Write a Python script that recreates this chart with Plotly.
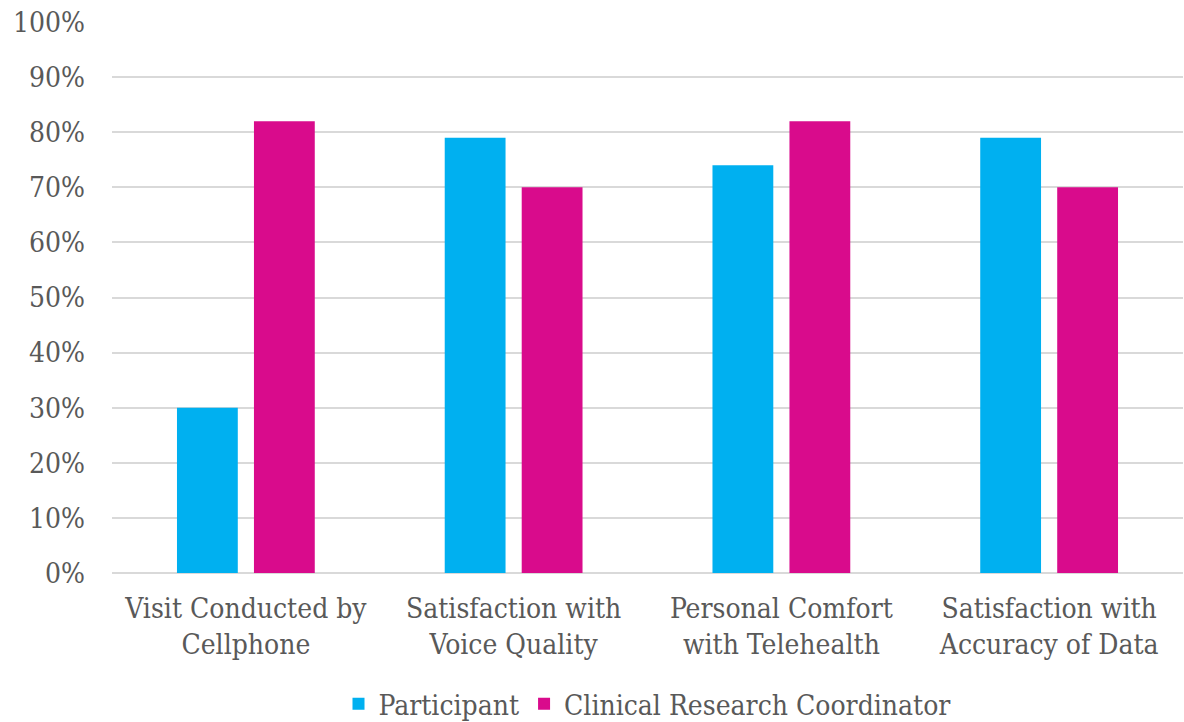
import plotly.graph_objects as go

categories = [
    "Visit Conducted by<br>Cellphone",
    "Satisfaction with<br>Voice Quality",
    "Personal Comfort<br>with Telehealth",
    "Satisfaction with<br>Accuracy of Data",
]
participant = [30, 79, 74, 79]
coordinator = [82, 70, 82, 70]
y_ticks = list(range(0, 101, 10))
y_tick_labels = [f"{v}%" for v in y_ticks]

font_family = "DejaVu Serif Condensed"
text_color = "#595959"
font_size = 28

fig = go.Figure()
fig.add_trace(go.Bar(x=categories, y=participant, name="Participant",
                     marker=dict(color="#00B0F0", line=dict(width=0))))
fig.add_trace(go.Bar(x=categories, y=coordinator, name="Clinical Research Coordinator",
                     marker=dict(color="#D90B8C", line=dict(width=0))))

fig.update_layout(
    width=1184, height=722,
    margin=dict(l=112, r=1, t=22, b=149, autoexpand=False),
    plot_bgcolor="white", paper_bgcolor="white",
    barmode="group", bargap=0.425, bargroupgap=0.21,
    font=dict(family=font_family, size=font_size, color=text_color),
    legend=dict(orientation="h", x=0.5, xanchor="center", y=-0.238, yanchor="middle",
                font=dict(family=font_family, size=font_size, color=text_color),
                traceorder="normal"),
    xaxis=dict(showgrid=False, ticks="", showline=False, automargin=False,
               ticklabelstandoff=16,
               tickfont=dict(family=font_family, size=font_size, color=text_color)),
    yaxis=dict(range=[0, 100], tickvals=y_ticks, ticktext=y_tick_labels,
               showgrid=True, gridcolor="#D9D9D9", gridwidth=2,
               zeroline=True, zerolinecolor="#D9D9D9", zerolinewidth=2,
               ticks="", showline=False, ticklabelstandoff=26, automargin=False,
               tickfont=dict(family=font_family, size=font_size, color=text_color)),
)

fig.write_html("out.html")
